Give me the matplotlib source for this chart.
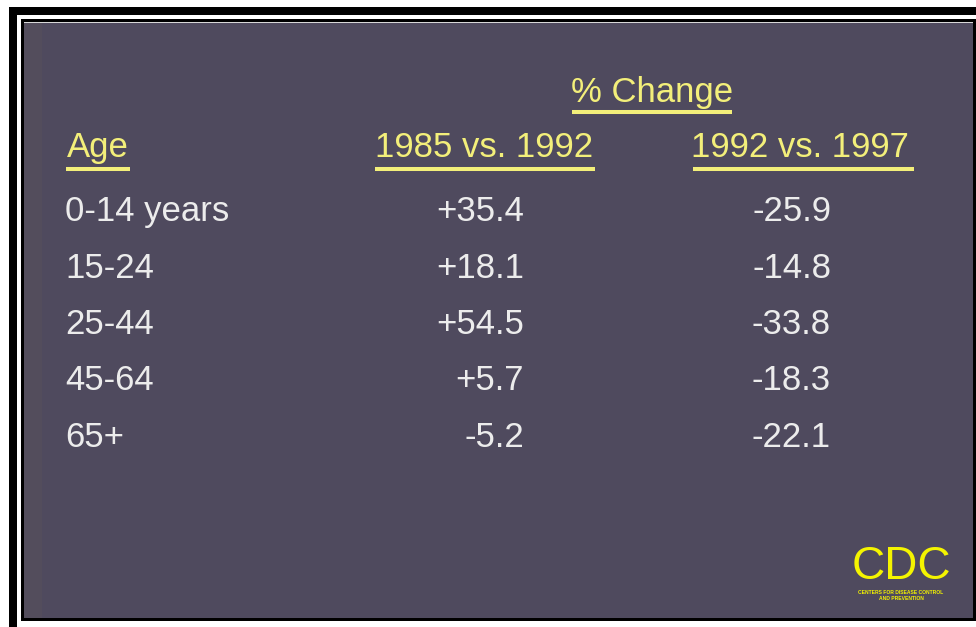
import matplotlib
matplotlib.use("Agg")
import matplotlib.pyplot as plt
from matplotlib.patches import Rectangle
from matplotlib.font_manager import fontManager

# ---------------- data ----------------
title = "% Change"
age_header = "Age"
period_headers = ["1985 vs. 1992", "1992 vs. 1997"]
age_groups = ["0-14 years", "15-24", "25-44", "45-64", "65+"]
change_1985_1992 = [35.4, 18.1, 54.5, 5.7, -5.2]
change_1992_1997 = [-25.9, -14.8, -33.8, -18.3, -22.1]
logo_text = "CDC"
logo_sub = ["CENTERS FOR DISEASE CONTROL", "AND PREVENTION"]

# ---------------- styles ----------------
names = {f.name for f in fontManager.ttflist}
if "Liberation Sans Narrow" in names:
    FAM = ["Liberation Sans Narrow", "DejaVu Sans"]
    FS = 29.5
else:
    FAM = ["Liberation Sans", "DejaVu Sans"]
    FS = 25
BG = "#4f4a5e"
YELLOW = "#f3ef7a"
WHITE = "#ececec"
LOGO_Y = "#f4f400"

W, H = 976, 627
fig = plt.figure(figsize=(W / 100, H / 100), dpi=100, facecolor="white")
ax = fig.add_axes([0, 0, 1, 1])
ax.set_xlim(0, W)
ax.set_ylim(H, 0)
ax.axis("off")

# frame
ax.add_patch(Rectangle((9, 7), W - 9, H - 7, color="black", lw=0))
ax.add_patch(Rectangle((17, 15), W - 17, H - 15, color="white", lw=0))
ax.add_patch(Rectangle((21, 19), W - 21, 621 - 19, color="black", lw=0))
ax.add_patch(Rectangle((24, 22), 973 - 24, 1.2, color="#d8d8d8", lw=0))
ax.add_patch(Rectangle((24, 23), 973 - 24, 618 - 23, color=BG, lw=0))
ax.add_patch(Rectangle((24, 23), 18, 618 - 23, color="#534d5c", lw=0))

def uline(x0, x1, y):
    ax.plot([x0, x1], [y, y], color=YELLOW, lw=2.9, solid_capstyle="butt")

# headers
ax.text(652, 102, title, color=YELLOW, fontsize=FS, family=FAM, ha="center", va="baseline")
uline(572, 732, 112)
ax.text(67, 157, age_header, color=YELLOW, fontsize=FS, family=FAM, ha="left", va="baseline")
uline(66, 130, 168.5)
col_centers = [484, 800]
ul_spans = [(375, 595), (693, 914)]
for c, lab, (a, b) in zip(col_centers, period_headers, ul_spans):
    ax.text(c, 157, lab, color=YELLOW, fontsize=FS, family=FAM, ha="center", va="baseline")
    uline(a, b, 169)

# rows
def fmt(v):
    return f"+{v:.1f}" if v > 0 else f"-{abs(v):.1f}"

y0, dy = 221, 56.5
for i, (g, a, b) in enumerate(zip(age_groups, change_1985_1992, change_1992_1997)):
    y = y0 + i * dy
    ax.text(65, y, g, color=WHITE, fontsize=FS, family=FAM, ha="left", va="baseline")
    ax.text(524, y, fmt(a), color=WHITE, fontsize=FS, family=FAM, ha="right", va="baseline")
    ax.text(831, y, fmt(b), color=WHITE, fontsize=FS, family=FAM, ha="right", va="baseline")

# CDC logo
ax.text(901, 589, logo_text, color=LOGO_Y, fontsize=33, family=FAM, ha="center",
        va="bottom")
ax.text(901, 594, logo_sub[0], color=LOGO_Y, fontsize=3.6, family=FAM, ha="center",
        va="baseline", weight="bold")
ax.text(901, 600, logo_sub[1], color=LOGO_Y, fontsize=3.6, family=FAM, ha="center",
        va="baseline", weight="bold")

fig.savefig("out.png", dpi=100, facecolor="white")
